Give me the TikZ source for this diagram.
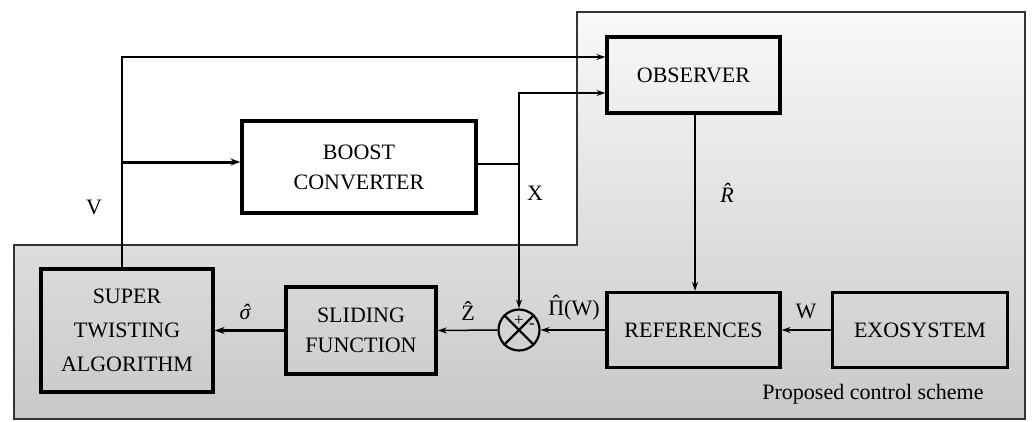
\documentclass[tikz,border=0pt]{standalone}
\usepackage{fontspec}
\setmainfont{Liberation Serif}
\usetikzlibrary{arrows.meta,shapes.geometric}
\newcommand\hatover[3]{\ooalign{#1\cr\hidewidth\kern#3\raisebox{#2}{\char"02C6}\hidewidth\cr}}
\begin{document}
\begin{tikzpicture}[x=1pt,y=-1pt,
  blk/.style={draw,line width=3.2pt,inner sep=0pt,align=center},
  conn/.style={line width=1.5pt,-{Stealth[length=9pt,width=6pt]}},
  thk/.style={line width=3pt,-{Stealth[length=10pt,width=7pt]}},
  lbl/.style={inner sep=0pt,font=\fontsize{22}{26}\selectfont}]
\useasboundingbox (0,0) rectangle (1032,421);
\shade[top color=gray!5,bottom color=gray!43,draw=black!80,line width=1.4pt]
  (14,245) -- (577,245) -- (577,12) -- (1025,12) -- (1025,419) -- (14,419) -- cycle;
% blocks
\node[blk,minimum width=173pt,minimum height=76pt,font=\fontsize{22}{30}\selectfont] (obs) at (693.5,75) {OBSERVER};
\node[blk,minimum width=234pt,minimum height=92pt,font=\fontsize{22}{30}\selectfont] (boost) at (359,167) {BOOST\\CONVERTER};
\node[blk,minimum width=172pt,minimum height=123pt,font=\fontsize{22}{34}\selectfont] (sta) at (127,330.5) {SUPER\\TWISTING\\ALGORITHM};
\node[blk,minimum width=150pt,minimum height=87pt,font=\fontsize{22}{30}\selectfont] (slide) at (361,330.5) {SLIDING\\FUNCTION};
\node[blk,minimum width=173pt,minimum height=75pt,font=\fontsize{22}{30}\selectfont] (ref) at (693.5,330) {REFERENCES};
\node[blk,minimum width=175pt,minimum height=75pt,font=\fontsize{22}{30}\selectfont] (exo) at (920,330) {EXOSYSTEM};
\node[draw,circle,line width=2.2pt,minimum size=41pt,inner sep=0pt] (sum) at (519,330) {};
\draw[line width=2.2pt] (sum.north east) -- (sum.south west) (sum.north west) -- (sum.south east);
\node[inner sep=0pt,font=\fontsize{17}{17}\selectfont] (plus) at (519,321) {+};
\node[inner sep=0pt,font=\fontsize{17}{17}\selectfont] (minus) at (532,326) {-};
% connectors
\coordinate (vtop) at (122,57);
\coordinate (vb) at (122,162);
\draw[conn] ([xshift=-5pt]sta.north) -- (vtop) -- (obs.west |- vtop);
\draw[thk] (vb) -- (boost.west |- vb);
\coordinate (xj) at (519,164);
\coordinate (xt) at (519,93);
\draw[line width=1.5pt] (boost.east |- xj) -- (xj);
\draw[line width=1.5pt,{Stealth[length=9pt,width=6pt]}-{Stealth[length=9pt,width=6pt]}] (sum.north) -- (xt) -- (obs.west |- xt);
\draw[conn] ([xshift=1.5pt]obs.south) -- ([xshift=1.5pt]ref.north);
\draw[conn] (exo.west) -- (ref.east);
\draw[conn] (ref.west) -- (sum.east);
\draw[conn] (sum.west) -- (slide.east);
\draw[thk] (slide.west) -- (sta.east);
% labels
\node[lbl] (lv) at (94,207) {V};
\node[lbl] (lx) at (535,193) {X};
\node[lbl] (lr) at (727,193) {\itshape R̂};
\node[lbl] (lw) at (806,311) {W};
\node[lbl] (lpi) at (574,310) {\hatover{Π}{0.2em}{0pt}(W)};
\node[lbl] (lz) at (468,311) {Ẑ};
\node[lbl] (ls) at (245,314) {\itshape\hatover{σ}{0pt}{0.08em}};
\node[lbl] (lp) at (873,394) {Proposed control scheme};
\end{tikzpicture}
\end{document}
